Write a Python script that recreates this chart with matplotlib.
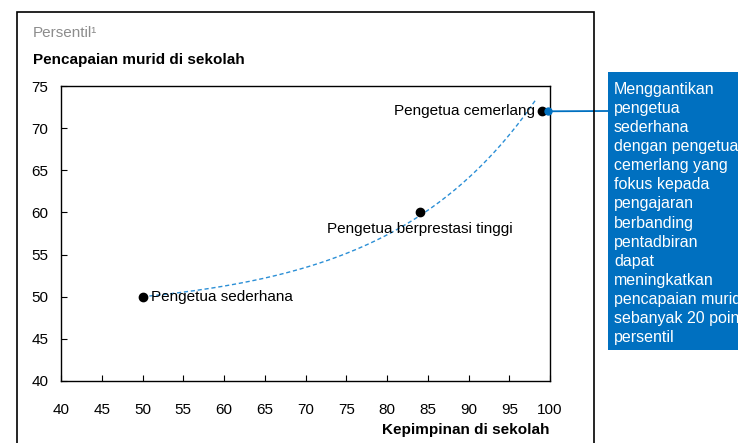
import numpy as np
import matplotlib.pyplot as plt
from matplotlib.patches import Rectangle

# principal types: leadership percentile vs student achievement percentile
labels = ['Pengetua sederhana', 'Pengetua berprestasi tinggi', 'Pengetua cemerlang']
leadership = [50, 84, 99]
achievement = [50, 60, 72]

# trend curve  y = base + k * (exp(c * (x - x0)) - 1)
trend_x0, trend_base, trend_k, trend_c = 50, 50, 1.68, 0.056
trend_end = 98.2

callout = ('Menggantikan\npengetua\nsederhana\ndengan pengetua\ncemerlang yang\n'
           'fokus kepada\npengajaran\nberbanding\npentadbiran\ndapat\n'
           'meningkatkan\npencapaian murid\nsebanyak 20 poin\npersentil')

blue = '#0070c0'
W, H = 738, 443
plt.rcParams['font.family'] = ['Liberation Sans', 'DejaVu Sans']

fig = plt.figure(figsize=(W / 100, H / 100), dpi=100)
ax = fig.add_axes([61 / W, 1 - 381 / H, (550 - 61) / W, (381 - 86) / H])

# outer frame around the exhibit
fig.patches.append(Rectangle((17 / W, -0.1), (594 - 17) / W, 1.1 - 12 / H,
                             transform=fig.transFigure, fill=False,
                             edgecolor='black', linewidth=1.2))

xs = np.linspace(trend_x0, trend_end, 200)
ys = trend_base + trend_k * (np.exp(trend_c * (xs - trend_x0)) - 1)
ax.plot(xs, ys, linestyle=(0, (3, 2)), color='#2b8fd6', linewidth=1.0, zorder=2)

ax.plot(leadership, achievement, 'o', color='black', markersize=6, zorder=4)

ax.text(leadership[0] + 1, achievement[0], labels[0], fontsize=11,
        ha='left', va='center')
ax.text(leadership[1], achievement[1] - 2.0, labels[1], fontsize=11,
        ha='center', va='center')
ax.text(leadership[2] - 0.9, achievement[2], labels[2], fontsize=11,
        ha='right', va='center')

# callout connector and box
ax.annotate('', xy=(608 / W, 1 - 111 / H), xycoords='figure fraction',
            xytext=(leadership[2] + 0.8, achievement[2]), textcoords='data',
            arrowprops=dict(arrowstyle='-', color=blue, linewidth=1.3,
                            shrinkA=0, shrinkB=0))
ax.plot([leadership[2] + 0.8], [achievement[2]], 'o', color=blue,
        markersize=5, zorder=5, clip_on=False)
fig.patches.append(Rectangle((608 / W, 1 - 350 / H), 200 / W, (350 - 72) / H,
                             transform=fig.transFigure, facecolor=blue,
                             edgecolor='none'))
fig.text(614 / W, 1 - 82 / H, callout, color='white', fontsize=11.5,
         ha='left', va='top', linespacing=1.34)

ax.set_xlim(40, 100)
ax.set_ylim(40, 75)
ax.set_xticks(range(40, 101, 5))
ax.set_yticks(range(40, 76, 5))
ax.tick_params(axis='both', direction='in', length=4, width=0.8,
               labelsize=11)
ax.tick_params(axis='x', pad=16)
ax.tick_params(axis='y', pad=9)
for s in ax.spines.values():
    s.set_linewidth(1.0)

fig.text(33 / W, 1 - 33 / H, 'Persentil\u00b9', color='#8c8c8c', fontsize=11,
         ha='left', va='center')
fig.text(33 / W, 1 - 60 / H, 'Pencapaian murid di sekolah', fontsize=11,
         fontweight='bold', ha='left', va='center')
fig.text(550 / W, 1 - 430 / H, 'Kepimpinan di sekolah', fontsize=11,
         fontweight='bold', ha='right', va='center')

fig.savefig('out.png', dpi=100)
